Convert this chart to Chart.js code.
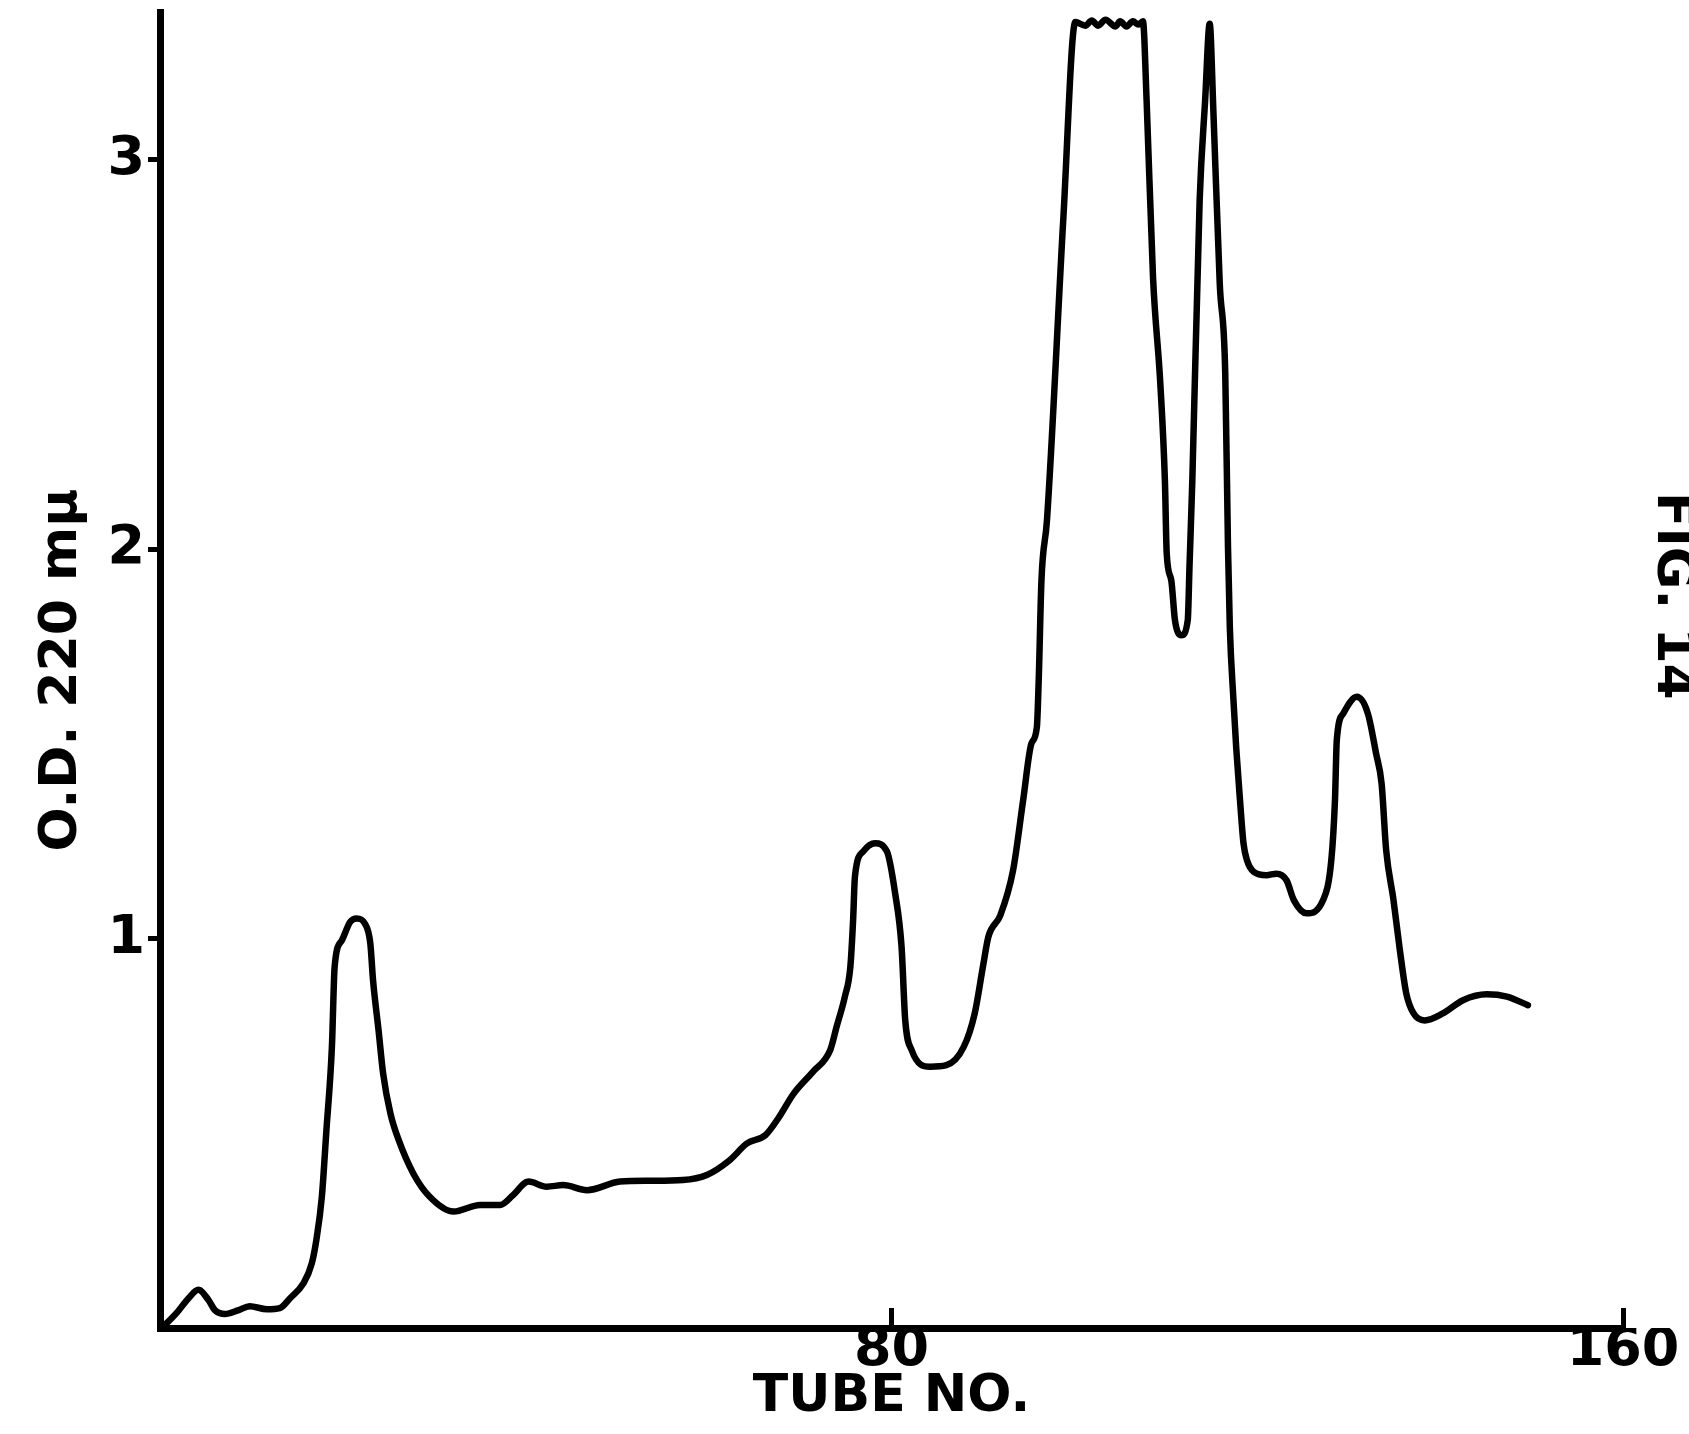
<!DOCTYPE html>
<html>
<head>
<meta charset="utf-8">
<script src="https://cdn.jsdelivr.net/npm/chart.js@4.4.1/dist/chart.umd.min.js"></script>
<style>
    html, body { margin: 0; padding: 0; background: #fff; overflow: hidden; }
    #wrap { position: relative; width: 1689px; height: 1434px; }
    #figLabel {
        position: absolute; left: 1702px; top: 492px;
        transform-origin: 0 0; transform: rotate(90deg);
        font: bold 52px "DejaVu Sans", sans-serif; line-height: 1;
        white-space: nowrap; color: #000;
    }
</style>
</head>
<body>
<div id="wrap">
    <canvas id="elutionChart" width="1689" height="1434"></canvas>
    <div id="figLabel">FIG. 14</div>
</div>
<script>
// ============================================
// ELUTION PROFILE (O.D. 220 mμ vs tube number)
// ============================================

const tubeNo = [
    0.2, 1.8, 3.1, 4.2, 5.3, 6.0, 7.1, 8.6, 9.8, 11.7, 13.1, 14.2, 15.7, 16.6, 17.1, 17.7,
    18.2, 18.8, 19.1, 19.9, 20.8, 21.5, 22.4, 23.0, 23.3, 23.9, 24.4, 25.2, 26.1, 27.7, 29.5,
    32.1, 35.0, 37.2, 38.6, 40.3, 42.3, 44.1, 46.7, 50.3, 53.6, 57.2, 59.8, 62.3, 64.2, 66.2,
    67.6, 69.3, 71.4, 73.3, 74.0, 74.9, 75.5, 75.8, 76.0, 76.9, 78.2, 79.5, 80.4, 81.1, 81.5,
    82.2, 84.2, 86.0, 87.9, 89.1, 90.0, 90.6, 91.9, 93.3, 94.4, 95.3, 95.9, 96.1, 96.4, 97.0,
    98.8, 100.1, 101.2, 101.9, 102.6, 103.4, 104.5, 105.0, 105.7, 106.4, 107.0, 107.5, 107.9,
    108.6, 109.4, 109.9, 110.1, 110.6, 111.0, 111.7, 112.4, 112.6, 112.9, 113.7, 114.3, 114.8,
    115.2, 115.9, 116.5, 116.8, 117.0, 117.4, 117.7, 118.1, 118.5, 118.9, 119.6, 121.0, 122.1,
    123.2, 124.0, 125.4, 127.2, 128.1, 128.5, 128.7, 129.4, 130.9, 132.1, 133.0, 133.6, 134.1,
    134.9, 135.6, 136.3, 137.1, 138.3, 140.3, 142.5, 145.1, 147.3, 149.6
];

const opticalDensity = [
    0.0, 0.038, 0.076, 0.098, 0.072, 0.046, 0.036, 0.046, 0.056, 0.048, 0.051, 0.076, 0.115, 0.166, 0.226, 0.337,
    0.508, 0.722, 0.928, 0.996, 1.043, 1.052, 1.039, 0.988, 0.893, 0.765, 0.654, 0.551, 0.483, 0.397, 0.337,
    0.299, 0.316, 0.316, 0.341, 0.376, 0.363, 0.367, 0.354, 0.376, 0.378, 0.38, 0.393, 0.431, 0.474, 0.495,
    0.538, 0.602, 0.658, 0.714, 0.774, 0.851, 0.928, 1.047, 1.159, 1.224, 1.245, 1.224, 1.116, 0.979, 0.791,
    0.714, 0.671, 0.675, 0.722, 0.808, 0.928, 1.005, 1.06, 1.176, 1.356, 1.501, 1.544, 1.664, 1.92, 2.074,
    2.853, 3.354, 3.345, 3.358, 3.345, 3.36, 3.343, 3.356, 3.343, 3.356, 3.348, 3.356, 3.153,
    2.699, 2.425, 2.177, 1.989, 1.92, 1.818, 1.779, 1.818, 1.963, 2.177, 2.896, 3.153, 3.35,
    3.127, 2.682, 2.452, 2.006, 1.8, 1.612, 1.49, 1.36, 1.244, 1.2, 1.172, 1.163, 1.167,
    1.150, 1.099, 1.065, 1.099, 1.202, 1.356, 1.51, 1.578, 1.621, 1.578, 1.475, 1.398, 1.227,
    1.099, 0.970, 0.859, 0.808, 0.790, 0.808, 0.842, 0.857, 0.851, 0.829
];

const xTicks = [80, 160];
const yTicks = [1, 2, 3];

const xTitle = 'TUBE NO.';
const yTitle = 'O.D. 220 mμ';

const letterFont = '"DejaVu Sans", sans-serif';

const points = tubeNo.map((t, i) => ({ x: t, y: opticalDensity[i] }));

new Chart(document.getElementById('elutionChart'), {
    type: 'line',
    data: {
        datasets: [{
            data: points,
            borderColor: '#000',
            borderWidth: 6.5,
            borderCapStyle: 'round',
            borderJoinStyle: 'round',
            pointRadius: 0,
            fill: false,
            cubicInterpolationMode: 'monotone'
        }]
    },
    options: {
        responsive: false,
        animation: false,
        layout: { autoPadding: false, padding: { top: 12, right: 66, bottom: 0, left: 0 } },
        plugins: { legend: { display: false }, tooltip: { enabled: false } },
        scales: {
            x: {
                type: 'linear',
                min: 0,
                max: 160,
                afterBuildTicks: s => { s.ticks = xTicks.map(v => ({ value: v })); },
                afterFit: s => { s.height = 106; s.paddingLeft = 0; s.paddingRight = 0; },
                border: { display: true, color: '#000', width: 7 },
                grid: { drawOnChartArea: false, drawTicks: true, tickLength: -20, tickWidth: 5, tickColor: '#000' },
                ticks: {
                    color: '#000',
                    padding: 11,
                    maxRotation: 0,
                    autoSkip: false,
                    font: { family: letterFont, size: 54, weight: 'bold' }
                },
                title: {
                    display: true,
                    text: xTitle,
                    color: '#000',
                    padding: { top: 0, bottom: 5 },
                    font: { family: letterFont, size: 52, weight: 'bold' }
                }
            },
            y: {
                type: 'linear',
                min: 0,
                max: 3.38,
                afterBuildTicks: s => { s.ticks = yTicks.map(v => ({ value: v })); },
                afterFit: s => { s.width = 160; s.paddingTop = 0; s.paddingBottom = 0; },
                border: { display: true, color: '#000', width: 7 },
                grid: { drawOnChartArea: false, drawTicks: true, tickLength: 12, tickWidth: 5, tickColor: '#000' },
                ticks: {
                    color: '#000',
                    padding: 3,
                    font: { family: letterFont, size: 54, weight: 'bold' }
                },
                title: {
                    display: true,
                    text: yTitle,
                    color: '#000',
                    padding: { top: 31, bottom: 0 },
                    font: { family: letterFont, size: 52, weight: 'bold' }
                }
            }
        }
    }
});
</script>
</body>
</html>
